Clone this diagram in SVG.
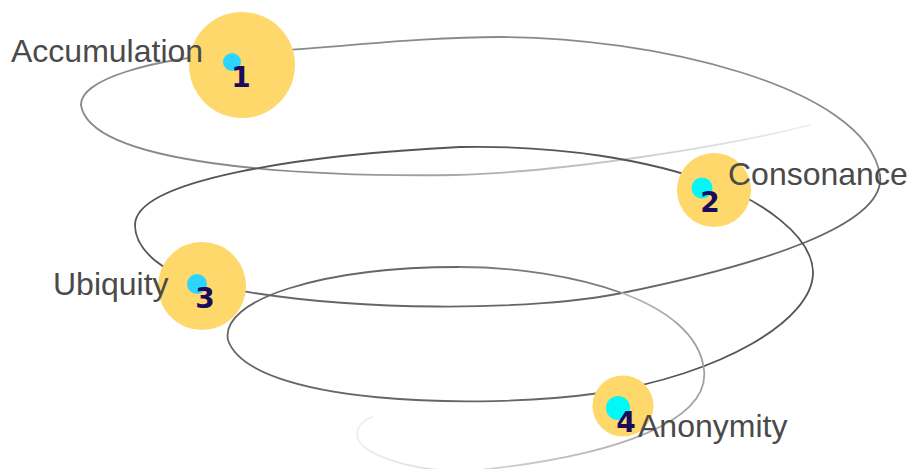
<svg xmlns="http://www.w3.org/2000/svg" width="915" height="469" viewBox="0 0 915 469">
<defs>
<linearGradient id="fadeStart" gradientUnits="userSpaceOnUse" x1="810" y1="0" x2="300" y2="0">
<stop offset="0" stop-color="#eeeeee"/>
<stop offset="1" stop-color="#8a8a8a"/>
</linearGradient>
<linearGradient id="fadeEnd" gradientUnits="userSpaceOnUse" x1="704" y1="0" x2="360" y2="0">
<stop offset="0" stop-color="#a0a0a0"/>
<stop offset="1" stop-color="#eeeeee"/>
</linearGradient>
<style>
.sp{fill:none;stroke-width:1.8;stroke-linecap:round}
.halo{fill:#fed86a}
.dotA{fill:#2cd5ff}
.dotB{fill:#00f8f8}
.num{font-family:"DejaVu Sans",sans-serif;font-weight:bold;font-size:28px;fill:#1a0b5e;text-anchor:middle}
.lbl{font-family:"Liberation Sans",Arial,sans-serif;font-size:32px;fill:#4a4a4a}
</style>
</defs>
<rect width="915" height="469" fill="#ffffff"/>
<g id="connectors">
<path class="sp" stroke="url(#fadeStart)" d="M810,125 C720,148 560,172 455,175 C300,177 90,165 81,105"/>
<path class="sp" stroke="#8a8a8a" d="M81,105 C80,80 150,58 242,53 C332,48 420,37 500,37 C650,37 865,85 880,175"/>
<path class="sp" stroke="#666666" d="M880,175 C887,225 760,265 622,293 C540,310 350,315 205,284"/>
<path class="sp" stroke="#555555" d="M205,284 C165,275 135,250 135,225 C135,180 300,155 460,147 C560,145 650,160 714,184 C760,200 812,235 813,272 C814,320 720,375 600,393"/>
<path class="sp" stroke="#666666" d="M600,393 C480,410 250,405 228,340 C220,300 320,267 460,267"/>
<path class="sp" stroke="#7a7a7a" d="M460,267 C515,267 575,276 622,293"/>
<path class="sp" stroke="url(#fadeEnd)" d="M622,293 C663,308 700,333 704,370 C710,420 620,455 480,470 C420,475 357,455 357,435 C357,427 362,421 372,417"/>
</g>
<g id="node1">
<circle class="halo" cx="242" cy="65" r="53"/>
<circle class="dotA" cx="232" cy="62" r="9"/>
<text class="num" x="241" y="87">1</text>
<text class="lbl" x="11" y="62">Accumulation</text>
</g>
<g id="node2">
<circle class="halo" cx="714" cy="190" r="37"/>
<circle class="dotB" cx="702" cy="188" r="10.5"/>
<text class="num" x="710" y="212">2</text>
<text class="lbl" x="728" y="185">Consonance</text>
</g>
<g id="node3">
<circle class="halo" cx="202" cy="286" r="44"/>
<circle class="dotA" cx="197" cy="284" r="10"/>
<text class="num" x="205" y="308">3</text>
<text class="lbl" x="53" y="295">Ubiquity</text>
</g>
<g id="node4">
<circle class="halo" cx="623" cy="406" r="30.5"/>
<circle class="dotB" cx="618" cy="408" r="12"/>
<text class="num" x="626" y="432">4</text>
<text class="lbl" x="638" y="437">Anonymity</text>
</g>
</svg>
